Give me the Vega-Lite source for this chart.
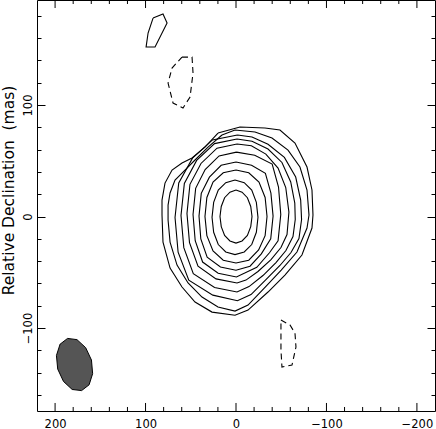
{
  "$schema": "https://vega.github.io/schema/vega-lite/v6.json",
  "width": 398,
  "height": 411,
  "autosize": {"type": "none"},
  "padding": {"left": 37, "top": 0, "right": 1, "bottom": 18},
  "background": "white",
  "config": {
    "view": {"stroke": "black", "strokeWidth": 1},
    "axis": {
      "domain": false, "grid": false, "tickColor": "black", "tickWidth": 1,
      "labelFont": "DejaVu Sans", "labelFontSize": 11.5, "labelColor": "black",
      "titleFont": "DejaVu Sans", "titleFontSize": 15.5, "titleFontWeight": "normal", "titleColor": "black",
      "labelFlush": false, "labelOverlap": false
    }
  },
  "datasets": {
    "xmajor": [{"v": -200}, {"v": -100}, {"v": 0}, {"v": 100}, {"v": 200}],
    "xminor": [
      {"v": -180}, {"v": -160}, {"v": -140}, {"v": -120}, {"v": -80}, {"v": -60}, {"v": -40}, {"v": -20},
      {"v": 20}, {"v": 40}, {"v": 60}, {"v": 80}, {"v": 120}, {"v": 140}, {"v": 160}, {"v": 180}
    ],
    "beam": [
      {"i": 0, "x": 170.7, "y": -156.1}, {"i": 1, "x": 162.4, "y": -150.9}, {"i": 2, "x": 158.5, "y": -140.9},
      {"i": 3, "x": 159.8, "y": -128.7}, {"i": 4, "x": 166.2, "y": -117.6}, {"i": 5, "x": 175.8, "y": -110.4},
      {"i": 6, "x": 186.2, "y": -109.3}, {"i": 7, "x": 194.5, "y": -114.5}, {"i": 8, "x": 198.5, "y": -124.6},
      {"i": 9, "x": 197.1, "y": -136.8}, {"i": 10, "x": 190.7, "y": -147.9}, {"i": 11, "x": 181.1, "y": -155.1},
      {"i": 12, "x": 170.7, "y": -156.1}
    ],
    "blob": [
      {"id": 11, "i": 0, "x": 91.7, "y": 178.0}, {"id": 11, "i": 1, "x": 80.7, "y": 181.6},
      {"id": 11, "i": 2, "x": 76.2, "y": 173.5}, {"id": 11, "i": 3, "x": 89.5, "y": 152.0},
      {"id": 11, "i": 4, "x": 99.4, "y": 152.0}, {"id": 11, "i": 5, "x": 97.2, "y": 164.6},
      {"id": 11, "i": 6, "x": 91.7, "y": 178.0}
    ],
    "dashed": [
      {"id": 12, "i": 0, "x": 59.7, "y": 143.0}, {"id": 12, "i": 1, "x": 48.6, "y": 143.0},
      {"id": 12, "i": 2, "x": 47.5, "y": 128.7}, {"id": 12, "i": 3, "x": 50.8, "y": 107.2},
      {"id": 12, "i": 4, "x": 58.6, "y": 97.3}, {"id": 12, "i": 5, "x": 69.6, "y": 101.8},
      {"id": 12, "i": 6, "x": 75.1, "y": 119.7}, {"id": 12, "i": 7, "x": 70.7, "y": 133.2},
      {"id": 12, "i": 8, "x": 59.7, "y": 143.0},
      {"id": 13, "i": 0, "x": -49.7, "y": -92.8}, {"id": 13, "i": 1, "x": -59.7, "y": -97.3},
      {"id": 13, "i": 2, "x": -65.2, "y": -104.5}, {"id": 13, "i": 3, "x": -66.3, "y": -117.0},
      {"id": 13, "i": 4, "x": -61.9, "y": -133.2}, {"id": 13, "i": 5, "x": -50.8, "y": -135.0},
      {"id": 13, "i": 6, "x": -49.7, "y": -119.7}, {"id": 13, "i": 7, "x": -49.7, "y": -106.3},
      {"id": 13, "i": 8, "x": -49.7, "y": -92.8}
    ],
    "main": [
      {"id": 1, "i": 0, "x": 0, "y": 23.8}, {"id": 1, "i": 1, "x": -6.7, "y": 21.9},
      {"id": 1, "i": 2, "x": -12.6, "y": 16.9}, {"id": 1, "i": 3, "x": -16.3, "y": 9.0},
      {"id": 1, "i": 4, "x": -17.7, "y": 0}, {"id": 1, "i": 5, "x": -16.3, "y": -9.0},
      {"id": 1, "i": 6, "x": -12.6, "y": -16.9}, {"id": 1, "i": 7, "x": -6.7, "y": -21.9},
      {"id": 1, "i": 8, "x": 0, "y": -23.8}, {"id": 1, "i": 9, "x": 6.7, "y": -21.9},
      {"id": 1, "i": 10, "x": 12.6, "y": -16.9}, {"id": 1, "i": 11, "x": 16.3, "y": -9.0},
      {"id": 1, "i": 12, "x": 17.7, "y": 0}, {"id": 1, "i": 13, "x": 16.3, "y": 9.0},
      {"id": 1, "i": 14, "x": 12.6, "y": 16.9}, {"id": 1, "i": 15, "x": 6.7, "y": 21.9},
      {"id": 1, "i": 16, "x": 0, "y": 23.8},

      {"id": 2, "i": 0, "x": 1.1, "y": 32.7}, {"id": 2, "i": 1, "x": -9.1, "y": 30.4},
      {"id": 2, "i": 2, "x": -17.4, "y": 23.7}, {"id": 2, "i": 3, "x": -22.5, "y": 12.7},
      {"id": 2, "i": 4, "x": -24.3, "y": -0.7}, {"id": 2, "i": 5, "x": -22.5, "y": -14.1},
      {"id": 2, "i": 6, "x": -17.4, "y": -25.1}, {"id": 2, "i": 7, "x": -9.1, "y": -31.8},
      {"id": 2, "i": 8, "x": 1.1, "y": -34.1}, {"id": 2, "i": 9, "x": 11.3, "y": -31.8},
      {"id": 2, "i": 10, "x": 19.6, "y": -25.1}, {"id": 2, "i": 11, "x": 24.7, "y": -14.1},
      {"id": 2, "i": 12, "x": 26.5, "y": -0.7}, {"id": 2, "i": 13, "x": 24.7, "y": 12.7},
      {"id": 2, "i": 14, "x": 19.6, "y": 23.7}, {"id": 2, "i": 15, "x": 11.3, "y": 30.4},
      {"id": 2, "i": 16, "x": 1.1, "y": 32.7},

      {"id": 3, "i": 0, "x": 0, "y": 41.7}, {"id": 3, "i": 1, "x": -14.1, "y": 39.2},
      {"id": 3, "i": 2, "x": -25.4, "y": 30.9}, {"id": 3, "i": 3, "x": -32.2, "y": 17.1},
      {"id": 3, "i": 4, "x": -34.3, "y": 0}, {"id": 3, "i": 5, "x": -32.2, "y": -17.1},
      {"id": 3, "i": 6, "x": -25.0, "y": -30.0}, {"id": 3, "i": 7, "x": -14.1, "y": -39.2},
      {"id": 3, "i": 8, "x": 0, "y": -41.7}, {"id": 3, "i": 9, "x": 14.1, "y": -39.2},
      {"id": 3, "i": 10, "x": 25.4, "y": -30.9}, {"id": 3, "i": 11, "x": 32.2, "y": -17.1},
      {"id": 3, "i": 12, "x": 34.3, "y": 0}, {"id": 3, "i": 13, "x": 32.2, "y": 17.1},
      {"id": 3, "i": 14, "x": 25.4, "y": 30.9}, {"id": 3, "i": 15, "x": 14.1, "y": 39.2},
      {"id": 3, "i": 16, "x": 0, "y": 41.7},

      {"id": 4, "i": 0, "x": 0, "y": 48.9}, {"id": 4, "i": 1, "x": -17.2, "y": 46.0},
      {"id": 4, "i": 2, "x": -32.5, "y": 38.8}, {"id": 4, "i": 3, "x": -38.6, "y": 21.0},
      {"id": 4, "i": 4, "x": -41.0, "y": 0.4}, {"id": 4, "i": 5, "x": -38.4, "y": -20.0},
      {"id": 4, "i": 6, "x": -28.0, "y": -33.5}, {"id": 4, "i": 7, "x": -15.5, "y": -44.5},
      {"id": 4, "i": 8, "x": 0, "y": -48.1}, {"id": 4, "i": 9, "x": 17.2, "y": -45.2},
      {"id": 4, "i": 10, "x": 31.9, "y": -36.5}, {"id": 4, "i": 11, "x": 38.9, "y": -20.0},
      {"id": 4, "i": 12, "x": 40.9, "y": 0.4}, {"id": 4, "i": 13, "x": 38.4, "y": 20.8},
      {"id": 4, "i": 14, "x": 29.4, "y": 35.3}, {"id": 4, "i": 15, "x": 16.4, "y": 46.0},
      {"id": 4, "i": 16, "x": 0, "y": 48.9},

      {"id": 5, "i": 0, "x": -0.5, "y": 57.8}, {"id": 5, "i": 1, "x": -20.7, "y": 55.0},
      {"id": 5, "i": 2, "x": -40.0, "y": 47.0}, {"id": 5, "i": 3, "x": -47.0, "y": 26.5},
      {"id": 5, "i": 4, "x": -49.5, "y": 1.8}, {"id": 5, "i": 5, "x": -46.5, "y": -21.7},
      {"id": 5, "i": 6, "x": -37.0, "y": -32.5}, {"id": 5, "i": 7, "x": -23.0, "y": -45.5},
      {"id": 5, "i": 8, "x": -0.5, "y": -54.2}, {"id": 5, "i": 9, "x": 19.7, "y": -50.8},
      {"id": 5, "i": 10, "x": 36.9, "y": -40.8}, {"id": 5, "i": 11, "x": 45.1, "y": -21.7},
      {"id": 5, "i": 12, "x": 47.5, "y": 1.8}, {"id": 5, "i": 13, "x": 44.6, "y": 25.3},
      {"id": 5, "i": 14, "x": 34.1, "y": 42.1}, {"id": 5, "i": 15, "x": 18.7, "y": 54.4},
      {"id": 5, "i": 16, "x": -0.5, "y": 57.8},

      {"id": 6, "i": 0, "x": -1.1, "y": 65.0}, {"id": 6, "i": 1, "x": -17.0, "y": 63.5},
      {"id": 6, "i": 2, "x": -33.0, "y": 56.0}, {"id": 6, "i": 3, "x": -46.5, "y": 43.5},
      {"id": 6, "i": 4, "x": -55.0, "y": 26.0}, {"id": 6, "i": 5, "x": -58.5, "y": 4.0},
      {"id": 6, "i": 6, "x": -56.4, "y": -16.1}, {"id": 6, "i": 7, "x": -49.7, "y": -27.8},
      {"id": 6, "i": 8, "x": -38.7, "y": -38.6}, {"id": 6, "i": 9, "x": -24.3, "y": -49.3},
      {"id": 6, "i": 10, "x": -11.0, "y": -57.0}, {"id": 6, "i": 11, "x": -1.1, "y": -59.6},
      {"id": 6, "i": 12, "x": 22.1, "y": -55.9}, {"id": 6, "i": 13, "x": 42.0, "y": -44.6},
      {"id": 6, "i": 14, "x": 51.4, "y": -23.5}, {"id": 6, "i": 15, "x": 54.2, "y": 2.7},
      {"id": 6, "i": 16, "x": 50.9, "y": 28.9}, {"id": 6, "i": 17, "x": 38.7, "y": 47.6},
      {"id": 6, "i": 18, "x": 21.0, "y": 61.3}, {"id": 6, "i": 19, "x": -1.1, "y": 65.0},

      {"id": 7, "i": 0, "x": -1.1, "y": 69.5}, {"id": 7, "i": 1, "x": -17.7, "y": 67.5},
      {"id": 7, "i": 2, "x": -35.4, "y": 60.5}, {"id": 7, "i": 3, "x": -50.8, "y": 48.5},
      {"id": 7, "i": 4, "x": -60.5, "y": 31.0}, {"id": 7, "i": 5, "x": -65.0, "y": 12.0},
      {"id": 7, "i": 6, "x": -65.5, "y": -2.7}, {"id": 7, "i": 7, "x": -63.0, "y": -17.9},
      {"id": 7, "i": 8, "x": -55.2, "y": -30.5}, {"id": 7, "i": 9, "x": -44.2, "y": -41.3},
      {"id": 7, "i": 10, "x": -29.8, "y": -52.9}, {"id": 7, "i": 11, "x": -14.4, "y": -62.8},
      {"id": 7, "i": 12, "x": -1.1, "y": -67.7}, {"id": 7, "i": 13, "x": 23.7, "y": -63.6},
      {"id": 7, "i": 14, "x": 47.2, "y": -51.2}, {"id": 7, "i": 15, "x": 57.7, "y": -27.9},
      {"id": 7, "i": 16, "x": 60.8, "y": 0.9}, {"id": 7, "i": 17, "x": 57.1, "y": 29.7},
      {"id": 7, "i": 18, "x": 43.5, "y": 50.3}, {"id": 7, "i": 19, "x": 23.7, "y": 65.4},
      {"id": 7, "i": 20, "x": -1.1, "y": 69.5},

      {"id": 8, "i": 0, "x": -1.6, "y": 73.1}, {"id": 8, "i": 1, "x": -17.7, "y": 71.3},
      {"id": 8, "i": 2, "x": -35.4, "y": 64.8}, {"id": 8, "i": 3, "x": -53.5, "y": 53.0},
      {"id": 8, "i": 4, "x": -66.0, "y": 35.4}, {"id": 8, "i": 5, "x": -71.5, "y": 14.8},
      {"id": 8, "i": 6, "x": -72.5, "y": -2.7}, {"id": 8, "i": 7, "x": -69.6, "y": -19.7},
      {"id": 8, "i": 8, "x": -60.8, "y": -32.3}, {"id": 8, "i": 9, "x": -48.6, "y": -43.9},
      {"id": 8, "i": 10, "x": -33.1, "y": -56.5}, {"id": 8, "i": 11, "x": -16.6, "y": -70.0},
      {"id": 8, "i": 12, "x": -1.6, "y": -75.5}, {"id": 8, "i": 13, "x": 25.6, "y": -70.5},
      {"id": 8, "i": 14, "x": 52.2, "y": -57.1}, {"id": 8, "i": 15, "x": 64.0, "y": -32.0},
      {"id": 8, "i": 16, "x": 67.4, "y": -0.9}, {"id": 8, "i": 17, "x": 63.3, "y": 30.2},
      {"id": 8, "i": 18, "x": 48.1, "y": 52.4}, {"id": 8, "i": 19, "x": 26.0, "y": 68.7},
      {"id": 8, "i": 20, "x": -1.6, "y": 73.1},

      {"id": 9, "i": 0, "x": 15.5, "y": 73.1}, {"id": 9, "i": 1, "x": 1.1, "y": 77.6},
      {"id": 9, "i": 2, "x": -21.0, "y": 75.8}, {"id": 9, "i": 3, "x": -39.8, "y": 70.4},
      {"id": 9, "i": 4, "x": -57.5, "y": 59.6}, {"id": 9, "i": 5, "x": -70.7, "y": 44.4},
      {"id": 9, "i": 6, "x": -78.5, "y": 23.8}, {"id": 9, "i": 7, "x": -80.7, "y": 1.3},
      {"id": 9, "i": 8, "x": -78.5, "y": -10.3}, {"id": 9, "i": 9, "x": -67.4, "y": -31.8},
      {"id": 9, "i": 10, "x": -50.0, "y": -48.0}, {"id": 9, "i": 11, "x": -31.0, "y": -64.5},
      {"id": 9, "i": 12, "x": -13.3, "y": -79.4}, {"id": 9, "i": 13, "x": 1.1, "y": -84.8},
      {"id": 9, "i": 14, "x": 19.9, "y": -81.2}, {"id": 9, "i": 15, "x": 37.6, "y": -72.2},
      {"id": 9, "i": 16, "x": 53.0, "y": -59.6}, {"id": 9, "i": 17, "x": 65.2, "y": -43.5},
      {"id": 9, "i": 18, "x": 72.9, "y": -22.9}, {"id": 9, "i": 19, "x": 75.1, "y": -3.1},
      {"id": 9, "i": 20, "x": 75.1, "y": 10.3}, {"id": 9, "i": 21, "x": 72.9, "y": 21.1},
      {"id": 9, "i": 22, "x": 67.4, "y": 32.7}, {"id": 9, "i": 23, "x": 56.4, "y": 41.7},
      {"id": 9, "i": 24, "x": 45.3, "y": 50.7}, {"id": 9, "i": 25, "x": 30.9, "y": 62.3},
      {"id": 9, "i": 26, "x": 15.5, "y": 73.1},

      {"id": 10, "i": 0, "x": 19.9, "y": 74.9}, {"id": 10, "i": 1, "x": -4.4, "y": 80.3},
      {"id": 10, "i": 2, "x": -32.0, "y": 79.4}, {"id": 10, "i": 3, "x": -48.6, "y": 77.6},
      {"id": 10, "i": 4, "x": -65.2, "y": 65.9}, {"id": 10, "i": 5, "x": -78.5, "y": 44.4},
      {"id": 10, "i": 6, "x": -84.0, "y": 23.8}, {"id": 10, "i": 7, "x": -85.1, "y": 1.3},
      {"id": 10, "i": 8, "x": -84.0, "y": -10.3}, {"id": 10, "i": 9, "x": -72.9, "y": -34.5},
      {"id": 10, "i": 10, "x": -54.1, "y": -52.5}, {"id": 10, "i": 11, "x": -35.4, "y": -67.7},
      {"id": 10, "i": 12, "x": -13.3, "y": -83.9}, {"id": 10, "i": 13, "x": 1.1, "y": -88.5},
      {"id": 10, "i": 14, "x": 26.5, "y": -85.7}, {"id": 10, "i": 15, "x": 45.3, "y": -76.7},
      {"id": 10, "i": 16, "x": 59.7, "y": -63.2}, {"id": 10, "i": 17, "x": 72.9, "y": -46.2},
      {"id": 10, "i": 18, "x": 80.7, "y": -22.9}, {"id": 10, "i": 19, "x": 81.8, "y": 1.3},
      {"id": 10, "i": 20, "x": 81.8, "y": 14.8}, {"id": 10, "i": 21, "x": 78.5, "y": 30.0},
      {"id": 10, "i": 22, "x": 70.7, "y": 41.7}, {"id": 10, "i": 23, "x": 59.7, "y": 48.0},
      {"id": 10, "i": 24, "x": 48.6, "y": 52.5}, {"id": 10, "i": 25, "x": 34.3, "y": 62.3},
      {"id": 10, "i": 26, "x": 19.9, "y": 74.9}
    ]
  },
  "layer": [
    {
      "data": {"name": "beam"},
      "mark": {"type": "line", "fill": "#555555", "stroke": "black", "strokeWidth": 1, "clip": true},
      "encoding": {
        "x": {"field": "x", "type": "quantitative",
          "scale": {"domain": [-220, 220], "reverse": true, "nice": false, "zero": false},
          "axis": {"orient": "bottom", "title": null, "values": [-200, -100, 0, 100, 200],
            "ticks": false, "labelPadding": 7}},
        "y": {"field": "y", "type": "quantitative",
          "scale": {"domain": [-174.4, 194.2], "nice": false, "zero": false},
          "axis": {"orient": "left", "title": "Relative Declination\u00a0 (mas)", "values": [-100, 0, 100],
            "tickSize": -8, "labelAngle": -90, "labelAlign": "center", "labelBaseline": "bottom",
            "labelPadding": 12, "titleX": -29, "titleY": 190, "titleAngle": -90,
            "titleAlign": "center", "titleBaseline": "middle"}},
        "order": {"field": "i", "type": "quantitative"}
      }
    },
    {
      "data": {"name": "main"},
      "mark": {"type": "line", "stroke": "black", "strokeWidth": 1.1, "clip": true},
      "encoding": {
        "x": {"field": "x", "type": "quantitative", "axis": null},
        "y": {"field": "y", "type": "quantitative",
          "axis": {"orient": "right", "title": null, "labels": false, "values": [-100, 0, 100], "tickSize": -8}},
        "detail": {"field": "id", "type": "nominal"},
        "order": {"field": "i", "type": "quantitative"}
      }
    },
    {
      "data": {"name": "blob"},
      "mark": {"type": "line", "stroke": "black", "strokeWidth": 1.1, "clip": true},
      "encoding": {
        "x": {"field": "x", "type": "quantitative", "axis": null},
        "y": {"field": "y", "type": "quantitative",
          "axis": {"orient": "left", "title": null, "labels": false,
            "values": [-160, -140, -120, -80, -60, -40, -20, 20, 40, 60, 80, 120, 140, 160, 180], "tickSize": -4}},
        "detail": {"field": "id", "type": "nominal"},
        "order": {"field": "i", "type": "quantitative"}
      }
    },
    {
      "data": {"name": "dashed"},
      "mark": {"type": "line", "stroke": "black", "strokeWidth": 1.1, "strokeDash": [6, 4], "clip": true},
      "encoding": {
        "x": {"field": "x", "type": "quantitative", "axis": null},
        "y": {"field": "y", "type": "quantitative",
          "axis": {"orient": "right", "title": null, "labels": false,
            "values": [-160, -140, -120, -80, -60, -40, -20, 20, 40, 60, 80, 120, 140, 160, 180], "tickSize": -4}},
        "detail": {"field": "id", "type": "nominal"},
        "order": {"field": "i", "type": "quantitative"}
      }
    },
    {
      "data": {"name": "xmajor"},
      "mark": {"type": "rule", "stroke": "black", "strokeWidth": 1},
      "encoding": {
        "x": {"field": "v", "type": "quantitative", "axis": null},
        "y": {"datum": -174.4, "type": "quantitative", "axis": null},
        "y2": {"datum": -167.2}
      }
    },
    {
      "data": {"name": "xmajor"},
      "mark": {"type": "rule", "stroke": "black", "strokeWidth": 1},
      "encoding": {
        "x": {"field": "v", "type": "quantitative", "axis": null},
        "y": {"datum": 194.2, "type": "quantitative", "axis": null},
        "y2": {"datum": 187.0}
      }
    },
    {
      "data": {"name": "xminor"},
      "mark": {"type": "rule", "stroke": "black", "strokeWidth": 1},
      "encoding": {
        "x": {"field": "v", "type": "quantitative", "axis": null},
        "y": {"datum": -174.4, "type": "quantitative", "axis": null},
        "y2": {"datum": -170.8}
      }
    },
    {
      "data": {"name": "xminor"},
      "mark": {"type": "rule", "stroke": "black", "strokeWidth": 1},
      "encoding": {
        "x": {"field": "v", "type": "quantitative", "axis": null},
        "y": {"datum": 194.2, "type": "quantitative", "axis": null},
        "y2": {"datum": 190.6}
      }
    }
  ],
  "resolve": {"axis": {"x": "independent", "y": "independent"}}
}
